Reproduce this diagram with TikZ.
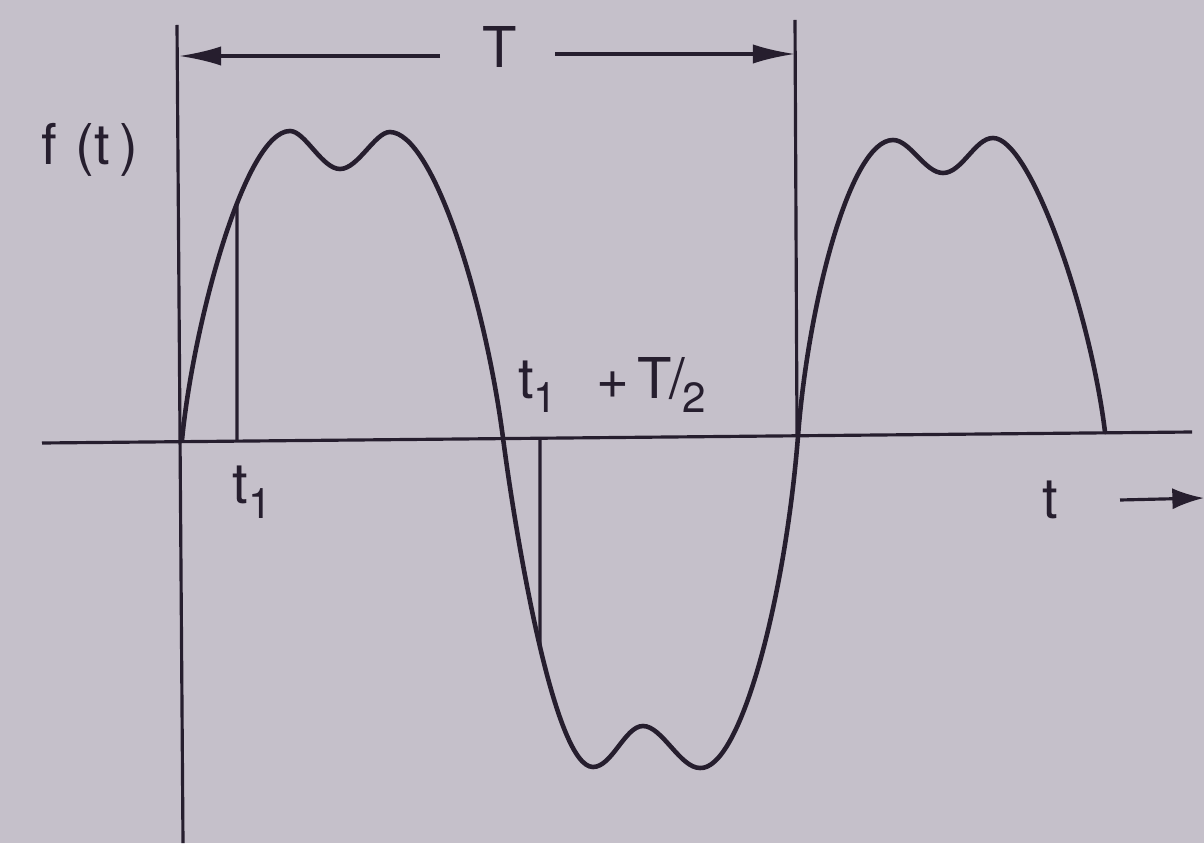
\documentclass[tikz,border=0pt]{standalone}
\usepackage{fontspec}
\setmainfont{TeX Gyre Heros}
\usetikzlibrary{arrows.meta,intersections}
\definecolor{bg}{RGB}{197,192,202}
\definecolor{ink}{RGB}{38,30,46}
\newcommand{\lsub}[1]{\raisebox{-0.5ex}{\fontsize{12}{13}\selectfont #1}}
\tikzset{
  wave/.style={ink, line width=1.3pt, line join=round, line cap=round},
  axisline/.style={ink, line width=0.9pt},
  dimarrow/.style={ink, line width=0.9pt, -{Latex[length=12pt,width=5.5pt]}},
  lab/.style={text=ink, font=\fontsize{16}{18}\selectfont, inner sep=0pt}
}
\begin{document}
\begin{tikzpicture}[x=0.01cm,y=-0.01cm]
\fill[bg] (0,0) rectangle (1204,843);
\useasboundingbox (0,0) rectangle (1204,843);

% axes
\coordinate (axL) at (42,443);
\coordinate (axR) at (1192,432);
\coordinate (vTop) at (177,25);
\coordinate (vBot) at (183,843);
\coordinate (tTop) at (795,20);
\coordinate (tBot) at (797,434);
\draw[axisline] (axL) -- (axR);
\draw[axisline] (vTop) -- (vBot);
\draw[axisline] (tTop) -- (tBot);

% T dimension
\node[lab] (T) at (500,47) {T};
\coordinate (TaL) at (440,56);
\coordinate (TaLend) at (179,56);
\coordinate (TaR) at (555,54);
\coordinate (TaRend) at (795,54);
\draw[dimarrow] (TaL) -- (TaLend);
\draw[dimarrow] (TaR) -- (TaRend);

% labels
\node[lab] (ft) at (90,150) {f\,\,(t\,)};
\node[lab] (t1) at (252,492) {t\lsub{1}};
\node[lab] (t1T) at (612,385) {t\lsub{1}\hspace{0.7em}+\hspace{0.15em}T\kern-0.05em/\kern-0.05em\lsub{2}};
\node[lab] (tlab) at (1050,500) {t};
\coordinate (tArS) at (1120,500);
\coordinate (tArE) at (1204,498);
\draw[ink, line width=0.9pt, -{Latex[length=9pt,width=6pt]}] (tArS) -- (tArE);

% waveform
\coordinate (z0) at (182,440);
\coordinate (p1) at (290,131);
\coordinate (d1) at (340,169);
\coordinate (p2) at (390,132);
\coordinate (z1) at (503,438);
\coordinate (q1) at (593,767);
\coordinate (b1) at (643,726);
\coordinate (q2) at (700,768);
\coordinate (z2) at (798,436);
\coordinate (p3) at (893,140);
\coordinate (d3) at (943,173);
\coordinate (p4) at (993,138);
\coordinate (z3) at (1105,432);
\draw[wave, name path=wavep] (z0)
  .. controls (193,325) and (245,131) .. (p1)
  .. controls (305,131) and (322,169) .. (d1)
  .. controls (358,169) and (375,132) .. (p2)
  .. controls (433,133) and (485,300) .. (z1)
  .. controls (517,545) and (555,767) .. (q1)
  .. controls (612,767) and (625,726) .. (b1)
  .. controls (662,726) and (680,768) .. (q2)
  .. controls (740,770) and (785,600) .. (z2)
  .. controls (808,305) and (850,140) .. (p3)
  .. controls (910,140) and (925,173) .. (d3)
  .. controls (962,173) and (975,138) .. (p4)
  .. controls (1030,138) and (1090,310) .. (z3);

% marker lines
\coordinate (m1a) at (237,440);
\coordinate (m1c) at (237,120);
\coordinate (m2a) at (540,438);
\coordinate (m2c) at (540,760);
\path[name path=v1] (m1a) -- (m1c);
\path[name path=v2] (m2a) -- (m2c);
\path[name intersections={of=wavep and v1, by={m1b}}];
\path[name intersections={of=wavep and v2, by={m2b}}];
\draw[axisline] (m1a) -- (m1b);
\draw[axisline] (m2a) -- (m2b);
\end{tikzpicture}
\end{document}
